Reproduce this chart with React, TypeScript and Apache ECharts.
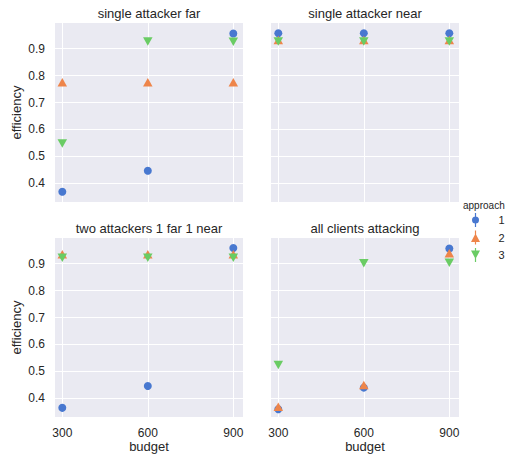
import React, { useEffect, useRef } from "react";
import * as echarts from "echarts";

const budgets = [300, 600, 900];
const panelTitles = [
  "single attacker far",
  "single attacker near",
  "two attackers 1 far 1 near",
  "all clients attacking",
];
const approachNames = ["1", "2", "3"];
// efficiency per panel, per budget
const approach1 = [
  [0.369, 0.447, 0.956],
  [0.957, 0.957, 0.957],
  [0.365, 0.446, 0.958],
  [0.36, 0.44, 0.956],
];
const approach2 = [
  [0.775, 0.775, 0.775],
  [0.932, 0.932, 0.932],
  [0.935, 0.935, 0.935],
  [0.369, 0.45, 0.938],
];
const approach3 = [
  [0.548, 0.926, 0.925],
  [0.926, 0.926, 0.926],
  [0.922, 0.922, 0.922],
  [0.524, 0.901, 0.903],
];
const xTicks = [300, 600, 900];
const yTicks = [0.4, 0.5, 0.6, 0.7, 0.8, 0.9];

const colors = ["#4878D0", "#EE854A", "#6ACC64"];
const TEXT = "#262626";
const FONT = "Liberation Sans, Arial, sans-serif";

const DOWN_TRI = "path://M0,0L10,0L5,9Z";
const legendIcons = [
  "path://M4.4,0H5.6V14H4.4Z M1.5,7A3.5,3.5 0 0 1 8.5,7A3.5,3.5 0 0 1 1.5,7Z",
  "path://M4.4,0H5.6V14H4.4Z M0.5,11.5L5,3L9.5,11.5Z",
  "path://M4.4,0H5.6V14H4.4Z M0.5,2.5L9.5,2.5L5,11Z",
];

export default function App() {
  const ref = useRef<HTMLDivElement>(null);
  useEffect(() => {
    if (!ref.current) return;
    const chart = echarts.init(ref.current, undefined, { renderer: "svg" });
    const lefts = [55, 271, 55, 271];
    const tops = [23, 23, 238, 238];
    const W = 188;
    const H = 179;
    const grids = lefts.map((l, i) => ({
      left: l,
      top: tops[i],
      width: W,
      height: H,
      show: true,
      backgroundColor: "#EAEAF2",
      borderWidth: 0,
    }));
    const xAxes = lefts.map((_, i) => ({
      type: "value",
      gridIndex: i,
      min: 274.4,
      max: 934,
      axisLine: { show: false },
      axisTick: { show: false, customValues: xTicks },
      axisLabel: {
        show: i >= 2,
        customValues: xTicks,
        color: TEXT,
        fontSize: 12,
        fontFamily: FONT,
        margin: 10,
      },
      splitLine: { show: true, lineStyle: { color: "#ffffff", width: 1 } },
      name: i >= 2 ? "budget" : "",
      nameLocation: "middle",
      nameGap: 23,
      nameTextStyle: { color: TEXT, fontSize: 13, fontFamily: FONT },
    }));
    const yAxes = lefts.map((_, i) => ({
      type: "value",
      gridIndex: i,
      min: 0.331,
      max: 0.995,
      axisLine: { show: false },
      axisTick: { show: false, customValues: yTicks },
      axisLabel: {
        show: i % 2 === 0,
        customValues: yTicks,
        color: TEXT,
        fontSize: 12,
        fontFamily: FONT,
        margin: 10,
        formatter: (v: number) => v.toFixed(1),
      },
      splitLine: { show: true, lineStyle: { color: "#ffffff", width: 1 } },
      name: i % 2 === 0 ? "efficiency" : "",
      nameLocation: "middle",
      nameGap: 32,
      nameTextStyle: { color: TEXT, fontSize: 13, fontFamily: FONT },
    }));
    const all = [approach1, approach2, approach3];
    const symbols: any[] = ["circle", "triangle", DOWN_TRI];
    const sizes: any[] = [8, [9.5, 8.5], [9.5, 8.5]];
    const series: any[] = [];
    for (let p = 0; p < 4; p++) {
      for (let a = 0; a < 3; a++) {
        series.push({
          type: "scatter",
          name: approachNames[a],
          xAxisIndex: p,
          yAxisIndex: p,
          symbol: symbols[a],
          symbolSize: sizes[a],
          itemStyle: { color: colors[a], opacity: 1 },
          z: 2 + a,
          data: budgets.map((b, j) => [b, all[a][p][j]]),
        });
      }
    }
    const titles: any[] = panelTitles.map((t, i) => ({
      text: t,
      left: lefts[i] + W / 2,
      top: tops[i] - 16,
      textAlign: "center",
      padding: 0,
      textStyle: { color: TEXT, fontSize: 13, fontWeight: "normal", fontFamily: FONT },
    }));
    titles.push({
      text: "approach",
      left: 463,
      top: 200,
      padding: 0,
      textStyle: { color: TEXT, fontSize: 10, fontWeight: "normal", fontFamily: FONT },
    });
    chart.setOption({
      animation: false,
      backgroundColor: "#ffffff",
      title: titles,
      grid: grids,
      xAxis: xAxes,
      yAxis: yAxes,
      legend: {
        orient: "vertical",
        left: 471,
        top: 213,
        padding: 0,
        itemWidth: 10,
        itemHeight: 14,
        itemGap: 3.5,
        data: approachNames.map((n, i) => ({ name: n, icon: legendIcons[i] })),
        textStyle: { color: TEXT, fontSize: 11, fontFamily: FONT, padding: [0, 0, 0, 13] },
      },
      series,
    });
    return () => chart.dispose();
  }, []);
  return (
    <div
      ref={ref}
      style={{ position: "fixed", left: 0, top: 0, width: 510, height: 454 }}
    />
  );
}
